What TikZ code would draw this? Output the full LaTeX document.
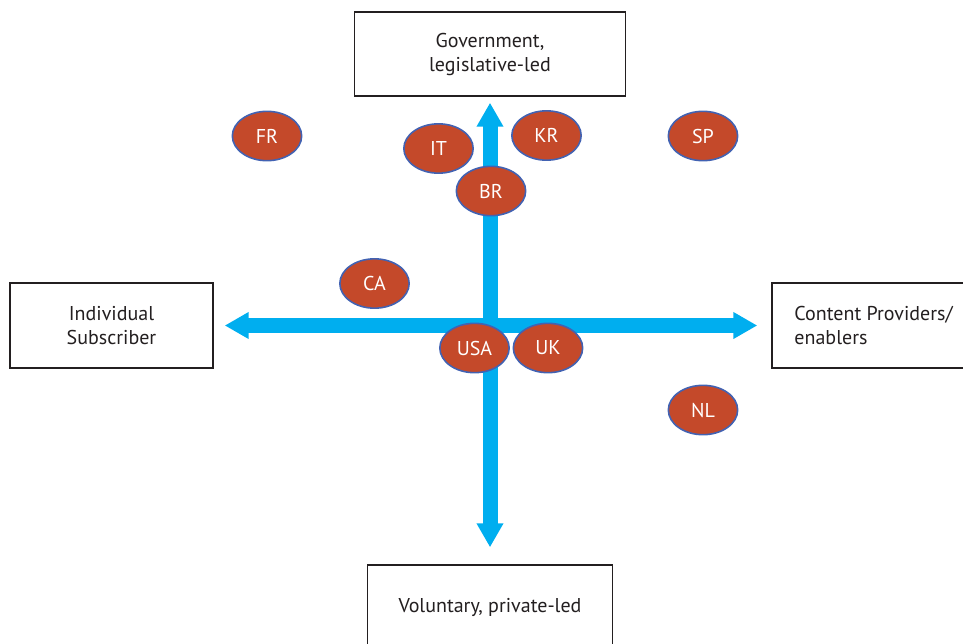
\documentclass[tikz,border=0pt]{standalone}
\usepackage{fontspec}
\setmainfont{PT Sans}
\usetikzlibrary{arrows.meta, shapes.geometric}
\definecolor{axisblue}{HTML}{00AEEF}
\definecolor{brick}{HTML}{C4492A}
\definecolor{rimblue}{HTML}{4262B2}
\definecolor{inkgrey}{HTML}{231F20}

\begin{document}
\begin{tikzpicture}[x=0.75pt, y=-0.75pt,
    box/.style={draw=inkgrey, line width=1.1pt, fill=white, inner sep=0pt,
      text=inkgrey, font=\fontsize{15}{18}\selectfont},
    land/.style={ellipse, draw=rimblue, line width=1.2pt, fill=brick, inner sep=0pt,
      minimum width=52pt, minimum height=37pt, text=white,
      font=\fontsize{15}{17}\selectfont},
    axis/.style={axisblue, line width=11.25pt,
      {Triangle[length=18pt, width=19pt]}-{Triangle[length=18pt, width=19pt]}}]

  \useasboundingbox (0,0) rectangle (963,643);
  \clip (0,0) rectangle (963,643);

  % the four ends
  \node[box, minimum width=203.25pt, minimum height=63pt, align=center]
    (gov) at (490,54) {Government,\\legislative-led};
  \node[box, minimum width=183.75pt, minimum height=63pt, align=center]
    (vol) at (490,607) {Voluntary, private-led};
  \node[box, minimum width=152.25pt, minimum height=63.75pt, align=center]
    (sub) at (111.5,325.5) {Individual\\Subscriber};
  \node[box, minimum width=152.25pt, minimum height=63.75pt, align=left]
    (prov) at (873.5,325.5) {Content Providers/\\enablers};

  % axes
  \draw[axis, shorten <=8.25pt, shorten >=10.5pt] (sub) -- (prov);
  \draw[axis, shorten <=4.5pt, shorten >=12.75pt] (gov) -- (vol);

  % countries
  \foreach \x/\y/\pays in {267/136/FR, 438.5/148.5/IT, 546.5/135.5/KR, 703/136/SP,
                           491/191/BR, 374.5/283.5/CA, 474.5/348/USA, 548/348/UK,
                           703/410/NL} {
    \node[land] (\pays) at (\x,\y) {\pays};
  }
\end{tikzpicture}
\end{document}
